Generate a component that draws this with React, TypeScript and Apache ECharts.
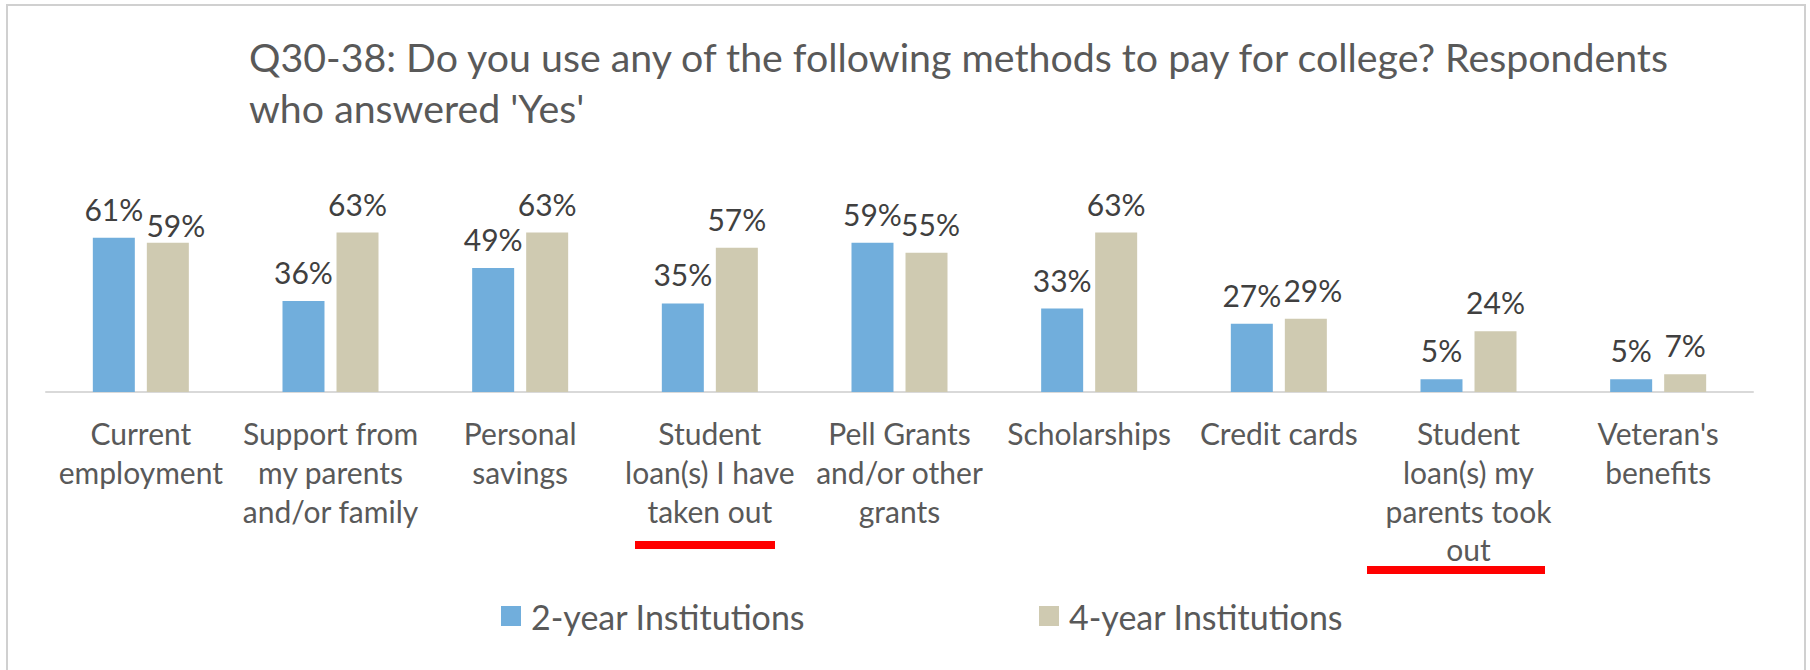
import React, { useEffect, useRef } from "react";
import * as echarts from "echarts";

const categories = [
  "Current\nemployment",
  "Support from\nmy parents\nand/or family",
  "Personal\nsavings",
  "Student\nloan(s) I have\ntaken out",
  "Pell Grants\nand/or other\ngrants",
  "Scholarships",
  "Credit cards",
  "Student\nloan(s) my\nparents took\nout",
  "Veteran's\nbenefits",
];

const seriesNames = ["2-year Institutions", "4-year Institutions"];
const twoYear = [61, 36, 49, 35, 59, 33, 27, 5, 5];
const fourYear = [59, 63, 63, 57, 55, 63, 29, 24, 7];

const titleText =
  "Q30-38: Do you use any of the following methods to pay for college? Respondents\nwho answered 'Yes'";

const FONT = "Lato, 'Liberation Sans Narrow', sans-serif";
const BLUE = "#71AEDC";
const BEIGE = "#CFCAB1";

// label nudges (Excel overlap avoidance) for 4-year series, by category index
const fourYearLabelOffset: Record<number, [number, number]> = {
  0: [8, 11],
  4: [4, 0],
  6: [7, 0],
};

export default function App() {
  const ref = useRef<HTMLDivElement>(null);
  useEffect(() => {
    if (!ref.current) return;
    const chart = echarts.init(ref.current, null, { renderer: "svg" });
    const labelBase = {
      show: true,
      position: "top" as const,
      distance: 14,
      color: "#404040",
      fontFamily: FONT,
      fontSize: 30,
      formatter: (p: any) => `${p.value}%`,
    };
    const legendText = {
      fontFamily: FONT,
      fontSize: 34,
      color: "#595959",
      padding: [0, 0, 0, 5],
    };
    chart.setOption({
      animation: false,
      backgroundColor: "#ffffff",
      title: {
        text: titleText,
        left: 244,
        top: 26,
        textStyle: {
          fontFamily: FONT,
          fontSize: 39.3,
          fontWeight: "normal",
          color: "#595959",
          lineHeight: 51,
        },
      },
      legend: [
        {
          data: [seriesNames[0]],
          left: 496,
          top: 594,
          itemWidth: 20,
          itemHeight: 20,
          icon: "rect",
          textStyle: legendText,
        },
        {
          data: [seriesNames[1]],
          left: 1034,
          top: 594,
          itemWidth: 20,
          itemHeight: 20,
          icon: "rect",
          textStyle: legendText,
        },
      ],
      grid: { left: 46, right: 57, top: 139, bottom: 278, containLabel: false },
      xAxis: {
        type: "category",
        data: categories,
        axisTick: { show: false },
        axisLine: { lineStyle: { color: "#D9D9D9", width: 2 } },
        axisLabel: {
          interval: 0,
          color: "#595959",
          fontFamily: FONT,
          fontSize: 30,
          lineHeight: 38.7,
          margin: 22,
          align: "center",
        },
      },
      yAxis: {
        type: "value",
        min: 0,
        max: 100,
        show: false,
        splitLine: { show: false },
      },
      graphic: [
        {
          type: "rect",
          shape: { x: 7, y: 5, width: 1798, height: 700 },
          style: { fill: "none", stroke: "#D0D0D0", lineWidth: 2 },
          silent: true,
        },
        {
          type: "rect",
          shape: { x: 635, y: 541, width: 140, height: 8 },
          style: { fill: "#FF0000" },
          silent: true,
        },
        {
          type: "rect",
          shape: { x: 1367, y: 566, width: 178, height: 8 },
          style: { fill: "#FF0000" },
          silent: true,
        },
      ],
      series: [
        {
          name: seriesNames[0],
          type: "bar",
          data: twoYear,
          barWidth: 42,
          barGap: "28.6%",
          itemStyle: { color: BLUE },
          label: labelBase,
        },
        {
          name: seriesNames[1],
          type: "bar",
          data: fourYear.map((v, i) =>
            fourYearLabelOffset[i]
              ? { value: v, label: { offset: fourYearLabelOffset[i] } }
              : v
          ),
          barWidth: 42,
          itemStyle: { color: BEIGE },
          label: labelBase,
        },
      ],
    });
    return () => chart.dispose();
  }, []);
  return (
    <div
      ref={ref}
      style={{ position: "fixed", left: 0, top: 0, width: 1810, height: 670, background: "#fff" }}
    />
  );
}
